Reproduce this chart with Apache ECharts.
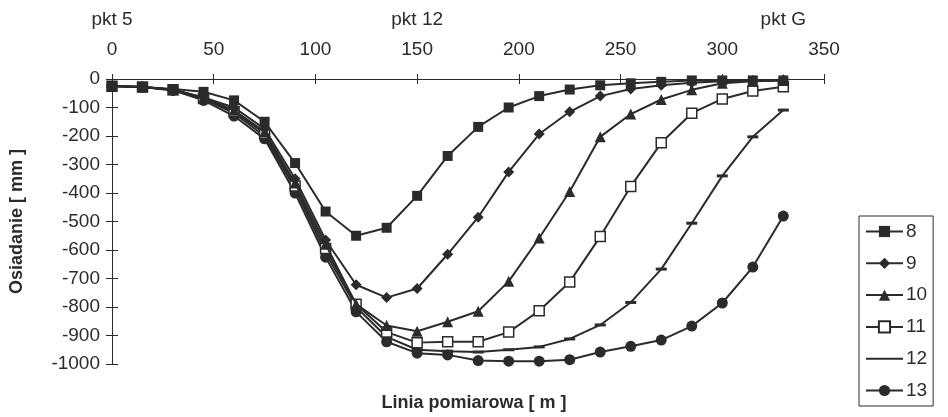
<!DOCTYPE html>
<html>
<head>
<meta charset="utf-8">
<script src="https://cdn.jsdelivr.net/npm/echarts@6/dist/echarts.min.js"></script>
<style>
html,body{margin:0;padding:0;background:#fff;}
#chart{width:948px;height:417px;}
</style>
</head>
<body>
<div id="chart"></div>
<script>
// ---- data ----
const xValues = [0,15,30,45,60,75,90,105,120,135,150,165,180,195,210,225,240,255,270,285,300,315,330];
const s8  = [-25,-28,-35,-45,-75,-150,-295,-465,-550,-522,-410,-270,-168,-100,-60,-37,-22,-15,-10,-5,-5,-5,-5];
const s9  = [-25,-28,-38,-65,-100,-175,-350,-565,-722,-767,-735,-615,-485,-326,-193,-115,-60,-35,-22,-13,-8,-5,-3];
const s10 = [-25,-28,-38,-65,-110,-185,-365,-580,-790,-865,-885,-852,-815,-710,-558,-395,-203,-123,-72,-38,-15,-8,-5];
const s11 = [-25,-28,-38,-68,-115,-190,-375,-595,-790,-888,-925,-922,-922,-888,-813,-712,-553,-377,-224,-120,-70,-42,-27];
const s12 = [-25,-28,-38,-70,-120,-200,-385,-610,-800,-905,-950,-955,-958,-950,-940,-912,-863,-784,-667,-506,-340,-203,-109];
const s13 = [-25,-28,-40,-75,-130,-210,-400,-625,-817,-922,-962,-968,-988,-990,-990,-985,-958,-938,-916,-867,-786,-660,-481];
const seriesNames = ['8','9','10','11','12','13'];
const pktPositions = [0,150,330];
const pktNames = ['pkt 5','pkt 12','pkt G'];
const xTitle = 'Linia pomiarowa [ m ]';
const yTitle = 'Osiadanie [ mm ]';

const INK = '#2b2b2b';
const FONT = 'Liberation Sans';

function pairs(arr){ return xValues.map((x,i)=>[x, arr[i]]); }

const symbolDefs = [
  {symbol:'rect', size:10, fill:INK},
  {symbol:'diamond', size:11, fill:INK},
  {symbol:'triangle', size:11, fill:INK},
  {symbol:'rect', size:10, fill:'#fff'},
  {symbol:'rect', size:[11,3], fill:INK},
  {symbol:'circle', size:11, fill:INK}
];
const allData = [s8,s9,s10,s11,s12,s13];

const series = allData.map((arr,i)=>({
  name: seriesNames[i],
  type:'line',
  data: pairs(arr),
  symbol: symbolDefs[i].symbol,
  symbolSize: symbolDefs[i].size,
  showAllSymbol: true,
  lineStyle:{color:INK, width:2},
  itemStyle:{color:symbolDefs[i].fill, borderColor:INK, borderWidth: i===3 ? 1.5 : 0},
  emphasis:{disabled:true},
  animation:false,
  z: 10 - i
}));

const legendData = seriesNames.map((n,i)=> i===4 ? {name:n, icon:'path://M0,0h37v2h-37z'} : {name:n});

const chart = echarts.init(document.getElementById('chart'), null, {renderer:'canvas'});
chart.setOption({
  backgroundColor:'#fff',
  animation:false,
  textStyle:{fontFamily:FONT, color:INK},
  grid:{left:110, top:79, right:124, bottom:53},
  xAxis:[
    {
      type:'value', position:'top', min:0, max:350, interval:50,
      axisLine:{lineStyle:{color:INK, width:1}},
      axisTick:{show:true, length:5, lineStyle:{color:INK}},
      axisLabel:{fontSize:19, color:INK, margin:20, fontFamily:FONT},
      splitLine:{show:false}
    },
    {
      type:'value', position:'top', min:0, max:350, interval:50,
      axisLine:{show:false},
      axisTick:{show:true, inside:true, length:5, lineStyle:{color:INK}},
      axisLabel:{show:false},
      splitLine:{show:false}
    },
    {
      type:'value', position:'top', min:0, max:350, interval:15, offset:50,
      axisLine:{show:false}, axisTick:{show:false}, splitLine:{show:false},
      axisLabel:{fontSize:19, color:INK, margin:0, fontFamily:FONT,
        formatter:function(v){ const k = pktPositions.indexOf(v); return k>=0 ? pktNames[k] : ''; }}
    }
  ],
  yAxis:[
    {
      type:'value', min:-1000, max:0, interval:100,
      axisLine:{show:true, lineStyle:{color:INK, width:1}},
      axisTick:{show:true, length:6, lineStyle:{color:INK}},
      axisLabel:{fontSize:19, color:INK, margin:12, fontFamily:FONT,
        formatter:function(v){ return String(v); }},
      splitLine:{show:false},
      name: yTitle, nameLocation:'middle', nameRotate:90, nameGap:86,
      nameTextStyle:{fontSize:18, fontWeight:'bold', color:INK, fontFamily:FONT}
    },
    {
      type:'value', min:-1000, max:0, interval:100, position:'left',
      axisLine:{show:false},
      axisTick:{show:true, inside:true, length:6, lineStyle:{color:INK}},
      axisLabel:{show:false}, splitLine:{show:false}
    }
  ],
  legend:{
    orient:'vertical', left:859, top:216,
    data:legendData,
    itemWidth:37, itemHeight:14, itemGap:12.8,
    padding:[6,6,6,6],
    borderColor:INK, borderWidth:1, borderRadius:0,
    textStyle:{fontSize:19, lineHeight:18, color:INK, fontFamily:FONT, padding:[0,0,0,-2]},
    selectedMode:false
  },
  graphic:[{
    type:'text', left:'center', top:394,
    style:{text:xTitle, fontSize:18, fontWeight:'bold', fill:INK, fontFamily:FONT},
  }],
  series: series
});
</script>
</body>
</html>
